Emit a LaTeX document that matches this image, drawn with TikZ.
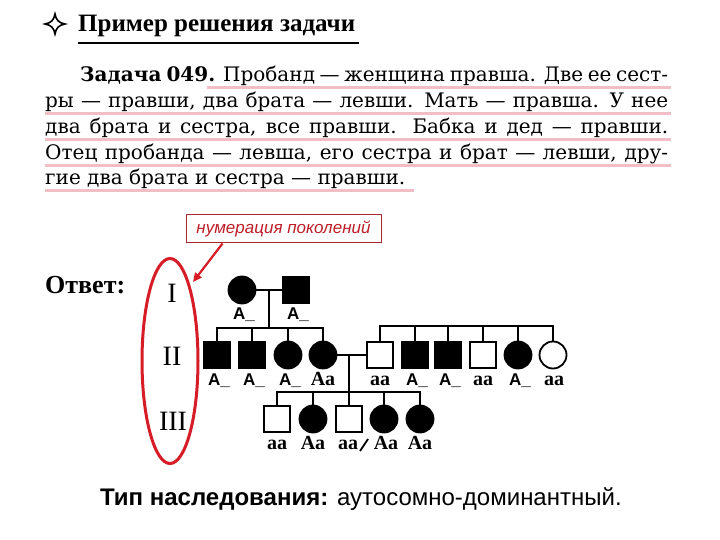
\documentclass[tikz,border=0pt]{standalone}
\usepackage{fontspec}
\setmainfont{Liberation Serif}
\setsansfont{Liberation Sans}
\newfontfamily\parfam{DejaVu Serif}
\usetikzlibrary{arrows.meta,shapes.geometric}
\definecolor{pinkc}{RGB}{242,190,198}
\definecolor{ellred}{RGB}{214,28,38}
\definecolor{boxred}{RGB}{170,40,50}
\definecolor{boxtxt}{RGB}{190,30,40}
\newcommand\parfont{\parfam\fontsize{20bp}{24bp}\selectfont}
\begin{document}
\begin{tikzpicture}[x=1bp,y=-1bp,
 rel/.style={line width=1.8bp},
 fem/.style={circle,draw,line width=1.8bp,minimum size=27bp,inner sep=0pt},
 mal/.style={rectangle,draw,line width=1.8bp,minimum size=26bp,inner sep=0pt},
 aff/.style={fill=black},
 una/.style={fill=white},
 ls/.style={anchor=base,inner sep=0pt,font=\sffamily\bfseries\fontsize{17bp}{17bp}\selectfont},
 lr/.style={anchor=base,inner sep=0pt,font=\bfseries\fontsize{20bp}{20bp}\selectfont},
 ptxt/.style={anchor=base west,inner sep=0pt,font=\parfont},
 pinkline/.style={draw=pinkc,line width=3bp},
 rom/.style={anchor=base,inner sep=0pt,font=\fontsize{28bp}{28bp}\selectfont}
]
\useasboundingbox[fill=white] (0,0) rectangle (720,540);

% title
\draw[line width=1.6bp,fill=white] (45,24) .. controls (51,23) and (54,20) .. (55,14)
  .. controls (56,20) and (59,23) .. (65,24) .. controls (59,25) and (56,28) .. (55,34)
  .. controls (54,28) and (51,25) .. (45,24) -- cycle;
\node[anchor=base west,inner sep=0pt,font=\bfseries\fontsize{25bp}{25bp}\selectfont] (title) at (78,32) {Пример решения задачи};
\coordinate (ul1) at (78,43);
\coordinate (ul2) at (359,43);
\draw[line width=2bp] (ul1) -- (ul2);

% pink underlines
\draw[pinkline] (207,88) -- (671,88);
\draw[pinkline] (45,114) -- (671,114);
\draw[pinkline] (45,140) -- (671,140);
\draw[pinkline] (45,166) -- (671,166);
\draw[pinkline] (45,191) -- (414,191);

% paragraph
\node[ptxt] (p1) at (80,82) {\makebox[588bp][s]{\textbf{Задача 049.} Пробанд — женщина правша. Две ее сест-}};
\node[ptxt] (p2) at (45,108) {\makebox[623bp][s]{ры — правши, два брата — левши. Мать — правша. У нее}};
\node[ptxt] (p3) at (45,134) {\makebox[623bp][s]{два брата и сестра, все правши. Бабка и дед — правши.}};
\node[ptxt] (p4) at (45,160) {\makebox[623bp][s]{Отец пробанда — левша, его сестра и брат — левши, дру-}};
\node[ptxt] (p5) at (45,185) {гие два брата и сестра — правши.};

% answer and generations
\node[anchor=base west,inner sep=0pt,font=\bfseries\fontsize{26bp}{26bp}\selectfont] (ans) at (45,293) {Ответ:};
\node[rom] (rI) at (172,302) {I};
\node[rom] (rII) at (172,365) {II};
\node[rom] (rIII) at (173,430) {III};
\node[ellipse,draw=ellred,line width=3bp,minimum width=56bp,minimum height=205bp,inner sep=0pt] (gen) at (170,361) {};

% label box
\node[draw=boxred,line width=1bp,minimum width=195bp,minimum height=28bp,inner sep=0pt,
  font=\sffamily\itshape\fontsize{17bp}{17bp}\selectfont,text=boxtxt] (lab) at (283.5,229) {нумерация поколений};
\coordinate (tip) at (193,282);
\draw[draw=ellred,line width=2.2bp,-{Triangle[length=9bp,width=8bp]}] ([xshift=37bp]lab.south west) -- (tip);

% generation I
\node[fem,aff] (i1) at (242,290) {};
\node[mal,aff] (i2) at (296,290) {};
\draw[rel] (i1) -- (i2);
\coordinate (m1) at (269,290);
\coordinate (s1) at (269,328);
\draw[rel] (m1) -- (s1);

% generation II left
\node[mal,aff] (a1) at (217,355) {};
\node[mal,aff] (a2) at (252,355) {};
\node[fem,aff] (a3) at (288,355) {};
\node[fem,aff] (a4) at (323,355) {};
\draw[rel] (a1.north) |- (a4.north |- s1) -- (a4.north);
\draw[rel] (a2.north) -- (a2.north |- s1);
\draw[rel] (a3.north) -- (a3.north |- s1);

% generation II right
\node[mal,una] (b1) at (380,355) {};
\node[mal,aff] (b2) at (415,355) {};
\node[mal,aff] (b3) at (448,355) {};
\node[mal,una] (b4) at (483,355) {};
\node[fem,aff] (b5) at (518,355) {};
\node[fem,una] (b6) at (553,355) {};
\coordinate (s2) at (380,326);
\draw[rel] (b1.north) |- (b6.north |- s2) -- (b6.north);
\foreach \n in {b2,b3,b4,b5} {\draw[rel] (\n.north) -- (\n.north |- s2);}

% marriage II
\draw[rel] (a4) -- (b1);
\coordinate (m2) at (349,355);
\coordinate (s3) at (349,392);
\draw[rel] (m2) -- (s3);

% generation III
\node[mal,una] (t1) at (277,419) {};
\node[fem,aff] (t2) at (313,419) {};
\node[mal,una] (t3) at (349,419) {};
\node[fem,aff] (t4) at (384,419) {};
\node[fem,aff] (t5) at (420,419) {};
\draw[rel] (t1.north) |- (t5.north |- s3) -- (t5.north);
\foreach \n in {t2,t3,t4} {\draw[rel] (\n.north) -- (\n.north |- s3);}

% labels
\node[ls] (li1) at (244,319) {A\_};
\node[ls] (li2) at (298,319) {A\_};
\node[ls] (la1) at (219,385) {A\_};
\node[ls] (la2) at (254,385) {A\_};
\node[ls] (la3) at (290,385) {A\_};
\node[lr] (la4) at (323,385) {Aa};
\node[lr] (lb1) at (380,385) {aa};
\node[ls] (lb2) at (417,385) {A\_};
\node[ls] (lb3) at (450,385) {A\_};
\node[lr] (lb4) at (483,385) {aa};
\node[ls] (lb5) at (520,385) {A\_};
\node[lr] (lb6) at (554,385) {aa};
\node[lr] (lt1) at (277,449) {aa};
\node[lr] (lt2) at (313,449) {Aa};
\node[lr] (lt3) at (348,449) {aa};
\node[lr] (lt4) at (386,449) {Aa};
\node[lr] (lt5) at (420,449) {Aa};
\draw[line width=1.8bp] (360,451) -- (368,439);

% bottom
\node[anchor=base west,inner sep=0pt,font=\sffamily\fontsize{24bp}{24bp}\selectfont] (type) at (100,505) {\textbf{Тип наследования:} аутосомно-доминантный.};
\end{tikzpicture}
\end{document}
